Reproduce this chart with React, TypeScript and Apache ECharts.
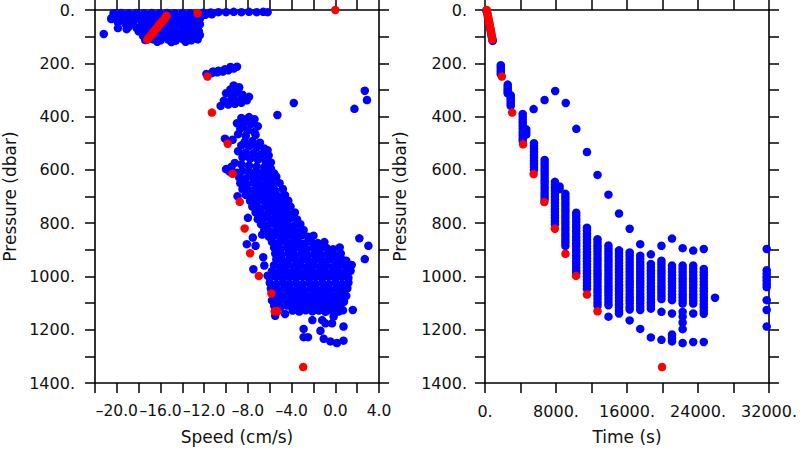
import React, { useEffect, useRef } from "react";
import * as echarts from "echarts";

// Left panel: [speed (cm/s), pressure (dbar)]
const speedBlue: number[][] = [
  // near-surface band
  [-20.3, 12], [-19.6, 11], [-18.9, 12], [-18.2, 11], [-17.5, 12], [-16.8, 11], [-16.1, 12], [-15.4, 11], [-14.7, 12], [-14.0, 11], [-13.3, 12],
  [-12.1, 10], [-11.4, 9], [-10.7, 8], [-10.0, 8], [-9.3, 7], [-8.6, 8], [-7.9, 7], [-7.2, 8], [-6.6, 7], [-6.2, 8],
  // top blob
  [-20.2, 24], [-19.5, 22], [-18.8, 25], [-18.1, 21], [-17.4, 24], [-16.7, 22], [-16.0, 25], [-15.3, 21], [-14.6, 24], [-13.9, 22], [-13.2, 25], [-12.5, 21], [-11.9, 18], [-11.3, 16],
  [-20.5, 34], [-19.7, 37], [-19.1, 35], [-18.4, 38], [-17.8, 34], [-17.1, 37], [-16.4, 35], [-15.7, 38], [-15.0, 34], [-14.3, 37], [-13.6, 35], [-12.9, 38], [-12.4, 33],
  [-19.9, 46], [-19.2, 52], [-18.5, 49], [-17.7, 53], [-17.0, 48], [-16.3, 52], [-15.6, 49], [-14.9, 53], [-14.2, 48], [-13.5, 52], [-12.8, 49], [-12.4, 54],
  [-19.9, 68], [-19.1, 72], [-18.9, 62], [-18.2, 67], [-17.5, 64], [-16.8, 68], [-16.1, 65], [-15.4, 69], [-14.7, 64], [-14.0, 68], [-13.3, 65], [-12.6, 69],
  [-18.0, 80], [-17.4, 84], [-16.7, 81], [-16.0, 85], [-15.3, 80], [-14.6, 84], [-13.9, 81], [-13.2, 85], [-12.5, 80],
  [-17.6, 97], [-17.0, 100], [-16.3, 96], [-15.6, 100], [-14.9, 97], [-14.2, 101], [-13.5, 96], [-12.8, 100], [-12.4, 94],
  [-17.4, 113], [-16.7, 110], [-16.0, 114], [-15.3, 111], [-14.6, 115], [-13.9, 111], [-13.2, 114], [-12.6, 110],
  [-16.3, 119], [-15.0, 120], [-13.7, 119],
  [-21.2, 90], [-20.5, 31],
  // 200-250 dbar
  [-11.8, 240], [-11.3, 237], [-10.8, 234], [-10.3, 231], [-9.8, 226], [-9.3, 220], [-9.0, 213], [-9.6, 214], [-10.1, 222], [-10.7, 228], [-11.2, 231],
  // 280-365 dbar
  [-9.3, 283], [-8.8, 290], [-9.6, 298], [-9.1, 306], [-10.0, 312], [-9.3, 320], [-8.5, 318], [-7.9, 326], [-8.6, 331], [-9.5, 333], [-10.2, 340],
  [-9.0, 345], [-8.1, 339], [-10.5, 360], [-9.8, 355], [-9.2, 352], [-8.6, 348],
  // isolated
  [-3.8, 349], [-5.3, 394], [1.75, 371], [2.7, 303], [2.9, 338],
  // 400-600 dbar
  [-8.6, 405], [-7.9, 402], [-7.4, 410], [-8.2, 418], [-9.0, 425], [-8.4, 432], [-7.7, 428], [-7.1, 436], [-8.7, 446], [-8.0, 452], [-7.4, 458],
  [-8.9, 466], [-8.2, 472], [-7.3, 469], [-10.1, 483], [-9.4, 487],
  [-8.3, 495], [-7.6, 492], [-6.9, 498], [-8.6, 508], [-7.9, 512], [-7.2, 516], [-6.5, 520], [-6.2, 526], [-8.9, 530], [-8.2, 535], [-7.5, 538],
  [-6.8, 542], [-6.1, 546], [-8.5, 552], [-7.8, 558], [-7.1, 562], [-6.4, 566], [-5.9, 572], [-9.2, 574], [-8.6, 579], [-7.9, 584], [-7.2, 588],
  [-6.5, 590], [-5.9, 595], [-10.0, 597], [-9.5, 588],
  // main cloud
  [-9.7, 606], [-9.0, 611], [-8.5, 604], [-7.9, 610], [-7.3, 606], [-6.7, 612], [-6.1, 607], [-5.6, 613],
  [-8.8, 628], [-8.2, 633], [-7.6, 627], [-7.0, 632], [-6.4, 629], [-5.8, 634], [-5.4, 626],
  [-8.7, 650], [-8.1, 655], [-7.5, 649], [-6.9, 654], [-6.3, 651], [-5.7, 656], [-5.1, 650],
  [-8.5, 672], [-7.9, 677], [-7.3, 671], [-6.7, 676], [-6.1, 673], [-5.5, 678], [-4.8, 672],
  [-8.95, 699], [-8.2, 694], [-7.6, 698], [-7.0, 693], [-6.4, 697], [-5.8, 694], [-5.2, 699], [-4.6, 695],
  [-7.8, 716], [-7.2, 721], [-6.6, 715], [-6.0, 720], [-5.4, 717], [-4.8, 722], [-4.3, 716],
  [-7.6, 738], [-7.0, 743], [-6.4, 737], [-5.8, 742], [-5.2, 739], [-4.6, 744], [-4.1, 738],
  [-7.3, 760], [-6.7, 765], [-6.1, 759], [-5.5, 764], [-4.9, 761], [-4.3, 766], [-3.7, 760],
  [-8.0, 780], [-7.1, 785], [-6.5, 781], [-5.9, 786], [-5.3, 782], [-4.7, 787], [-4.1, 781], [-3.5, 786],
  [-6.8, 804], [-6.2, 809], [-5.6, 803], [-5.0, 808], [-4.4, 805], [-3.8, 810], [-3.2, 804],
  [-6.5, 826], [-5.9, 831], [-5.3, 825], [-4.7, 830], [-4.1, 827], [-3.5, 832], [-2.9, 826],
  [-6.7, 843], [-6.1, 850], [-5.5, 846], [-4.9, 851], [-4.3, 847], [-3.7, 852], [-3.1, 846], [-2.5, 851], [-2.0, 847],
  [-7.55, 854], [-8.1, 879], [-7.3, 885], [-5.8, 870], [-5.2, 875], [-4.6, 869], [-4.0, 874], [-3.4, 871], [-2.8, 876], [-2.2, 870], [-1.6, 875], [-1.0, 871],
  [-5.6, 892], [-5.0, 897], [-4.4, 891], [-3.8, 896], [-3.2, 893], [-2.6, 898], [-2.0, 892], [-1.4, 897], [-0.8, 893], [-0.2, 898], [0.4, 891],
  [-5.5, 914], [-4.9, 919], [-4.3, 913], [-3.7, 918], [-3.1, 915], [-2.5, 920], [-1.9, 914], [-1.3, 919], [-0.7, 915], [-0.1, 920], [0.5, 914],
  [-6.6, 928], [-5.4, 936], [-4.8, 941], [-4.2, 935], [-3.6, 940], [-3.0, 937], [-2.4, 942], [-1.8, 936], [-1.2, 941], [-0.6, 937], [0.0, 942], [0.6, 936], [1.0, 941],
  [-6.5, 959], [-5.6, 958], [-5.0, 963], [-4.4, 957], [-3.8, 962], [-3.2, 959], [-2.6, 964], [-2.0, 958], [-1.4, 963], [-0.8, 959], [-0.2, 964], [0.4, 958], [1.0, 963], [1.5, 957],
  [-7.5, 973], [-5.8, 980], [-5.2, 985], [-4.6, 979], [-4.0, 984], [-3.4, 981], [-2.8, 986], [-2.2, 980], [-1.6, 985], [-1.0, 981], [-0.4, 986], [0.2, 980], [0.8, 985], [1.4, 979],
  [-6.2, 997], [-6.0, 1006], [-5.4, 1001], [-4.8, 1007], [-4.2, 1002], [-3.6, 1006], [-3.0, 1001], [-2.4, 1007], [-1.8, 1002], [-1.2, 1006], [-0.6, 1001], [0.0, 1007], [0.6, 1002], [1.2, 1006],
  [-6.0, 1024], [-5.4, 1029], [-4.8, 1023], [-4.2, 1028], [-3.6, 1025], [-3.0, 1030], [-2.4, 1024], [-1.8, 1029], [-1.2, 1025], [-0.6, 1030], [0.0, 1024], [0.6, 1029], [1.2, 1023],
  [-5.9, 1046], [-5.3, 1051], [-4.7, 1045], [-4.1, 1050], [-3.5, 1047], [-2.9, 1052], [-2.3, 1046], [-1.7, 1051], [-1.1, 1047], [-0.5, 1052], [0.1, 1046], [0.7, 1051], [1.1, 1045],
  [-5.5, 1068], [-4.9, 1073], [-4.3, 1067], [-3.7, 1072], [-3.1, 1069], [-2.5, 1074], [-1.9, 1068], [-1.3, 1073], [-0.7, 1069], [-0.1, 1074], [0.5, 1068], [1.0, 1073],
  [-5.8, 1090], [-5.2, 1095], [-4.6, 1089], [-4.0, 1094], [-3.4, 1091], [-2.8, 1096], [-2.2, 1090], [-1.6, 1095], [-1.0, 1091], [-0.4, 1096], [0.2, 1090], [0.8, 1095],
  [-5.6, 1110], [-5.0, 1115], [-4.4, 1109], [-3.8, 1114], [-3.2, 1111], [-2.6, 1116], [-2.0, 1110], [-1.4, 1115], [-0.8, 1111], [-0.2, 1116], [0.4, 1110],
  [-3.9, 1128], [-3.3, 1132], [-2.7, 1127], [-2.1, 1131], [-1.5, 1128], [-0.9, 1133], [-0.3, 1129], [0.3, 1132], [0.7, 1127], [1.6, 1126],
  // deep scattered
  [-5.5, 1148], [-4.6, 1141], [-2.1, 1164], [-1.2, 1164], [-0.15, 1151], [0.75, 1188], [-2.9, 1197], [-2.9, 1228], [-2.5, 1228], [-1.36, 1204],
  [-1.06, 1234], [-0.45, 1244], [0.15, 1250], [0.75, 1241], [-0.3, 1176], [-0.9, 1176],
  [2.2, 857], [3.03, 885], [2.7, 935],
];

const speedRed: number[][] = [
  [-17.2, 111], [-17.05, 104], [-16.9, 96], [-16.75, 88], [-16.6, 81], [-16.45, 73], [-16.3, 66], [-16.15, 58], [-16.0, 50], [-15.85, 43],
  [-15.7, 36], [-15.55, 29], [-15.45, 22], [-12.6, 12], [0, 0],
  [-11.7, 250], [-11.3, 385], [-9.85, 502], [-9.4, 615], [-8.75, 720], [-8.3, 820], [-7.8, 913], [-7.0, 998], [-5.85, 1064],
  [-5.55, 1131], [-5.3, 1131], [-2.94, 1340],
];

// Right panel: columns of [time (s), pressures (dbar)]
const timeColumns: [number, number[]][] = [
  [1780, [207, 216, 225, 233, 241]],
  [2560, [280, 289, 297, 305, 313]],
  [2900, [320, 328, 336, 344, 352, 360]],
  [4250, [390, 401, 412, 423, 434, 446, 458, 470, 482, 492]],
  [4650, [448, 458, 468]],
  [5520, [500, 511, 522, 533, 545, 556, 567, 578, 589, 600]],
  [6720, [563, 574, 585, 596, 607, 618, 630, 641, 652, 664, 675, 687, 699, 710]],
  [7880, [645, 656, 667, 679, 690, 701, 712, 724, 736, 747, 758, 770, 781, 793, 804]],
  [8400, [662, 672]],
  [9060, [690, 701, 712, 724, 735, 747, 758, 770, 781, 793, 804, 816, 827, 839, 850, 862, 873, 885]],
  [10280, [761, 772, 784, 795, 807, 818, 830, 841, 853, 864, 876, 887, 899, 910, 922, 933, 945, 956, 968, 979, 988]],
  [11490, [817, 828, 840, 851, 863, 874, 886, 897, 909, 920, 932, 943, 955, 966, 978, 989, 1001, 1012, 1024, 1035, 1047]],
  [12680, [860, 871, 883, 895, 906, 918, 930, 941, 953, 965, 977, 989, 1000, 1012, 1024, 1036, 1048, 1060, 1073, 1085, 1098, 1110]],
  [13910, [884, 896, 908, 919, 931, 943, 955, 966, 978, 990, 1002, 1013, 1025, 1037, 1049, 1060, 1072, 1084, 1096, 1108, 1151]],
  [15100, [902, 914, 926, 938, 950, 961, 973, 985, 997, 1009, 1021, 1033, 1045, 1056, 1068, 1080, 1092, 1104, 1116, 1128, 1139]],
  [16300, [910, 922, 934, 946, 958, 970, 982, 994, 1006, 1018, 1030, 1042, 1054, 1066, 1078, 1090, 1102, 1114, 1124, 1165]],
  [17490, [922, 934, 946, 958, 970, 982, 994, 1006, 1018, 1030, 1042, 1054, 1066, 1078, 1090, 1102, 1114, 1126, 1197]],
  [18690, [953, 965, 977, 989, 1001, 1013, 1025, 1037, 1049, 1061, 1073, 1085, 1097, 1109, 1121, 1229]],
  [19880, [941, 953, 965, 977, 989, 1001, 1013, 1025, 1037, 1049, 1061, 1073, 1085, 1133, 1238]],
  [21070, [959, 971, 983, 995, 1007, 1019, 1031, 1043, 1055, 1067, 1079, 1089, 1139, 1218, 1231, 1244]],
  [22270, [959, 971, 983, 995, 1007, 1019, 1031, 1043, 1055, 1067, 1079, 1091, 1102, 1133, 1151, 1173, 1198, 1250]],
  [23460, [959, 971, 983, 995, 1007, 1019, 1031, 1043, 1055, 1067, 1079, 1091, 1102, 1139, 1246]],
  [24650, [972, 984, 996, 1008, 1020, 1032, 1044, 1056, 1068, 1080, 1092, 1104, 1116, 1128, 1140, 1246]],
  [25920, [1080]],
  [31740, [897, 977, 990, 1003, 1015, 1028, 1040, 1089, 1126, 1188]],
];

// Right panel: individual blue points [time, pressure]
const timeBlueExtra: number[][] = [
  [150, 2], [260, 14], [330, 26], [400, 38], [470, 50], [540, 62], [610, 74], [680, 86], [750, 98], [830, 110], [870, 116],
  [5480, 372], [6710, 338], [7910, 304], [9100, 349], [10290, 446], [11490, 533], [12680, 619], [13910, 693], [15100, 764],
  [16300, 821], [17490, 879], [18690, 917], [19880, 885], [21070, 858], [22270, 894], [23460, 903], [24650, 897],
];

const timeRed: number[][] = [
  [190, 0], [240, 8], [290, 16], [340, 25], [390, 33], [440, 42], [490, 50], [540, 59], [590, 67], [640, 76], [690, 85],
  [740, 94], [790, 103], [820, 111],
  [1900, 250], [3060, 385], [4290, 504], [5480, 616], [6680, 721], [7870, 821], [9065, 915], [10260, 998], [11490, 1068],
  [12680, 1131], [19950, 1340],
];

const FONT = "DejaVu Sans";
const TXT = "#111";

function fmtSigned(v: number, digits: number) {
  const s = Math.abs(v).toFixed(digits);
  return v < 0 ? "\u2013" + s : s;
}

export default function App() {
  const ref = useRef<HTMLDivElement>(null);
  useEffect(() => {
    const chart = echarts.init(ref.current!, null, { renderer: "svg" });
    const axisLine = { show: true, onZero: false, lineStyle: { color: "#000", width: 1.6 } };
    const axisTick = { show: true, inside: false, length: 10, lineStyle: { color: "#000", width: 1.5 } };
    const labelStyle = { fontSize: 16, color: TXT, fontFamily: FONT };
    const nameStyle = { fontSize: 17, color: TXT, fontFamily: FONT };

    const yLabel = {
      ...labelStyle,
      formatter: (v: number) => (v % 200 === 0 ? v + "." : ""),
    };
    const yMain = (gridIndex: number, margin: number) => ({
      type: "value",
      gridIndex,
      position: "left",
      inverse: true,
      min: 0,
      max: 1400,
      interval: 100,
      axisLine,
      axisTick,
      splitLine: { show: false },
      axisLabel: { ...yLabel, margin },
      name: "Pressure (dbar)",
      nameLocation: "middle",
      nameGap: 77,
      nameTextStyle: nameStyle,
    });
    const yRight = (gridIndex: number) => ({
      type: "value",
      gridIndex,
      position: "right",
      inverse: true,
      min: 0,
      max: 1400,
      interval: 100,
      axisLine,
      axisTick,
      splitLine: { show: false },
      axisLabel: { show: false },
    });

    const blueStyle = { color: "#0000ff", opacity: 1 };
    const redStyle = { color: "#ff0000", opacity: 1 };

    const timeBlue: number[][] = [];
    timeColumns.forEach(([t, ps]) => ps.forEach((p) => timeBlue.push([t, p])));
    timeBlueExtra.forEach((d) => timeBlue.push(d));

    const option: any = {
      animation: false,
      backgroundColor: "#fff",
      grid: [
        { left: 93, top: 10, width: 286, height: 377 },
        { left: 485, top: 10, width: 286, height: 377 },
      ],
      xAxis: [
        {
          type: "value",
          gridIndex: 0,
          position: "bottom",
          min: -22,
          max: 4,
          interval: 2,
          axisLine,
          axisTick,
          splitLine: { show: false },
          axisLabel: {
            ...labelStyle,
            fontSize: 15.5,
            margin: 20,
            formatter: (v: number) => ((v + 20) % 4 === 0 ? fmtSigned(v, 1) : ""),
          },
          name: "Speed (cm/s)",
          nameLocation: "middle",
          nameGap: 45,
          nameTextStyle: nameStyle,
        },
        {
          type: "value",
          gridIndex: 0,
          position: "top",
          min: -22,
          max: 4,
          interval: 2,
          axisLine,
          axisTick,
          splitLine: { show: false },
          axisLabel: { show: false },
        },
        {
          type: "value",
          gridIndex: 1,
          position: "bottom",
          min: 0,
          max: 32000,
          interval: 4000,
          axisLine,
          axisTick,
          splitLine: { show: false },
          axisLabel: {
            ...labelStyle,
            margin: 20,
            formatter: (v: number) => (v % 8000 === 0 ? v + "." : ""),
          },
          name: "Time (s)",
          nameLocation: "middle",
          nameGap: 45,
          nameTextStyle: nameStyle,
        },
        {
          type: "value",
          gridIndex: 1,
          position: "top",
          min: 0,
          max: 32000,
          interval: 4000,
          axisLine,
          axisTick,
          splitLine: { show: false },
          axisLabel: { show: false },
        },
      ],
      yAxis: [yMain(0, 20), yRight(0), yMain(1, 18), yRight(1)],
      series: [
        { type: "scatter", xAxisIndex: 0, yAxisIndex: 0, data: speedBlue, symbol: "circle", symbolSize: 8.5, itemStyle: blueStyle, silent: true },
        { type: "scatter", xAxisIndex: 0, yAxisIndex: 0, data: speedRed, symbol: "circle", symbolSize: 8.5, itemStyle: redStyle, silent: true },
        { type: "scatter", xAxisIndex: 2, yAxisIndex: 2, data: timeBlue, symbol: "circle", symbolSize: 8.5, itemStyle: blueStyle, silent: true },
        { type: "scatter", xAxisIndex: 2, yAxisIndex: 2, data: timeRed, symbol: "circle", symbolSize: 8.5, itemStyle: redStyle, silent: true },
      ],
    };
    chart.setOption(option);
    return () => chart.dispose();
  }, []);
  return (
    <div
      ref={ref}
      style={{ position: "fixed", left: 0, top: 0, width: 800, height: 450, background: "#fff" }}
    />
  );
}
